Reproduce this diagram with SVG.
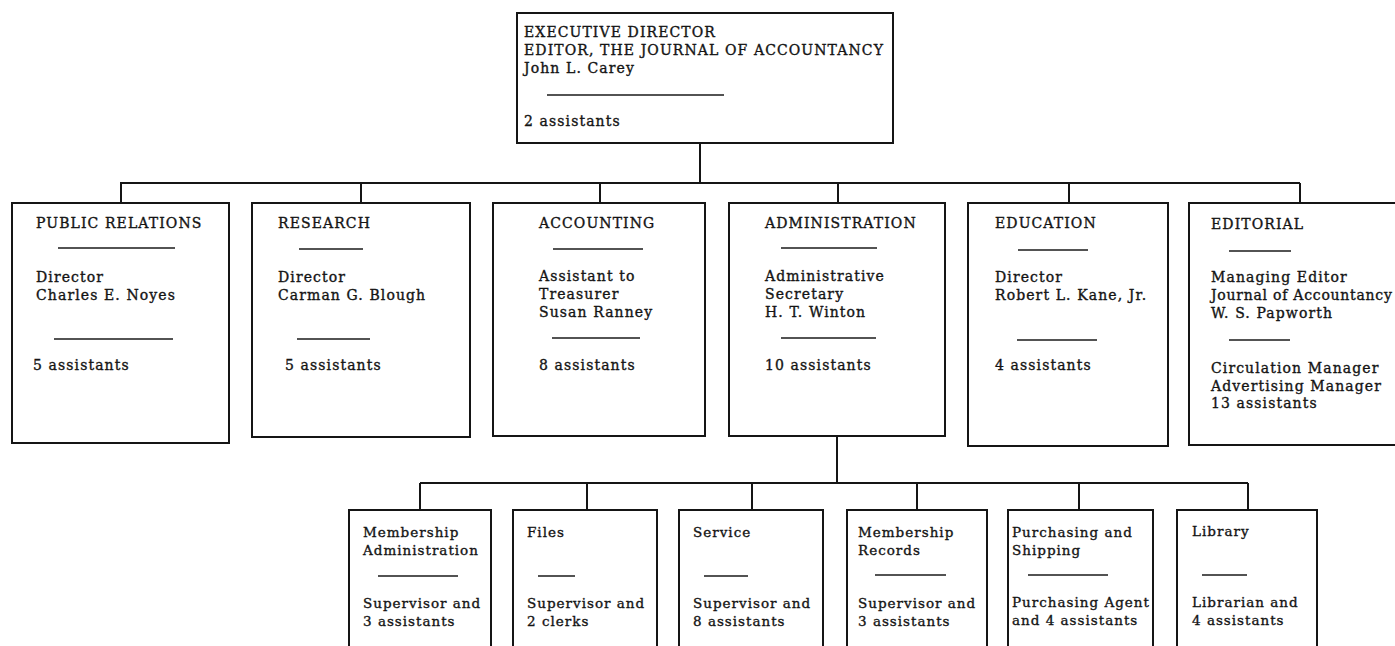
<svg xmlns="http://www.w3.org/2000/svg" width="1395" height="646" viewBox="0 0 1395 646">
  <style>
    .box { fill: #ffffff; stroke: #151515; stroke-width: 2; }
    .link { fill: none; stroke: #151515; stroke-width: 2; }
    .rule { stroke: #1a1a1a; stroke-width: 1.5; }
    text { font-family: "DejaVu Serif", "Liberation Serif", serif; fill: #141414; stroke: #141414; stroke-width: 0.35; }
    .t { font-size: 14px; letter-spacing: 1.1px; }
    .s { font-size: 13.5px; letter-spacing: 1px; }
    .tight { letter-spacing: 0.75px; }
  </style>
  <rect width="1395" height="646" fill="#ffffff" stroke="none"/>

  <!-- connectors -->
  <g id="connectors">
    <path class="link" d="M700,143 V183 M120,183 H1300 M121,183 V203 M361,183 V203 M600,183 V203 M838,183 V203 M1069,183 V203 M1300,183 V203"/>
    <path class="link" d="M837,436 V483 M420,483 H1248 M420,483 V510 M587,483 V510 M752,483 V510 M917,483 V510 M1079,483 V510 M1248,483 V510"/>
  </g>

  <!-- top: executive director -->
  <g id="executive-director">
    <rect class="box" x="517" y="13" width="376" height="130"/>
    <text class="t" x="524" y="37">EXECUTIVE DIRECTOR</text>
    <text class="t" x="524" y="55">EDITOR, THE JOURNAL OF ACCOUNTANCY</text>
    <text class="t" x="524" y="73">John L. Carey</text>
    <line class="rule" x1="547" y1="95" x2="724" y2="95"/>
    <text class="t" x="524" y="126">2 assistants</text>
  </g>

  <!-- departments -->
  <g id="public-relations">
    <rect class="box" x="12" y="203" width="217" height="240"/>
    <text class="t" x="36" y="228">PUBLIC RELATIONS</text>
    <line class="rule" x1="58" y1="248" x2="175" y2="248"/>
    <text class="t" x="36" y="282">Director</text>
    <text class="t" x="36" y="300">Charles E. Noyes</text>
    <line class="rule" x1="54" y1="339" x2="173" y2="339"/>
    <text class="t" x="33" y="370">5 assistants</text>
  </g>

  <g id="research">
    <rect class="box" x="252" y="203" width="218" height="234"/>
    <text class="t" x="278" y="228">RESEARCH</text>
    <line class="rule" x1="299" y1="249" x2="363" y2="249"/>
    <text class="t" x="278" y="282">Director</text>
    <text class="t" x="278" y="300">Carman G. Blough</text>
    <line class="rule" x1="297" y1="339" x2="370" y2="339"/>
    <text class="t" x="285" y="370">5 assistants</text>
  </g>

  <g id="accounting">
    <rect class="box" x="493" y="203" width="212" height="233"/>
    <text class="t" x="539" y="228">ACCOUNTING</text>
    <line class="rule" x1="553" y1="249" x2="643" y2="249"/>
    <text class="t" x="539" y="281">Assistant to</text>
    <text class="t" x="539" y="299">Treasurer</text>
    <text class="t" x="539" y="317">Susan Ranney</text>
    <line class="rule" x1="552" y1="338" x2="640" y2="338"/>
    <text class="t" x="539" y="370">8 assistants</text>
  </g>

  <g id="administration">
    <rect class="box" x="729" y="203" width="216" height="233"/>
    <text class="t" x="765" y="228">ADMINISTRATION</text>
    <line class="rule" x1="781" y1="248" x2="877" y2="248"/>
    <text class="t" x="765" y="281">Administrative</text>
    <text class="t" x="765" y="299">Secretary</text>
    <text class="t" x="765" y="317">H. T. Winton</text>
    <line class="rule" x1="781" y1="338" x2="876" y2="338"/>
    <text class="t" x="765" y="370">10 assistants</text>
  </g>

  <g id="education">
    <rect class="box" x="968" y="203" width="200" height="243"/>
    <text class="t" x="995" y="228">EDUCATION</text>
    <line class="rule" x1="1018" y1="250" x2="1088" y2="250"/>
    <text class="t" x="995" y="282">Director</text>
    <text class="t" x="995" y="300">Robert L. Kane, Jr.</text>
    <line class="rule" x1="1017" y1="340" x2="1097" y2="340"/>
    <text class="t" x="995" y="370">4 assistants</text>
  </g>

  <g id="editorial">
    <rect class="box" x="1189" y="203" width="215" height="242"/>
    <text class="t" x="1211" y="229">EDITORIAL</text>
    <line class="rule" x1="1229" y1="251" x2="1291" y2="251"/>
    <text class="t" x="1211" y="282">Managing Editor</text>
    <text class="t tight" x="1211" y="300">Journal of Accountancy</text>
    <text class="t" x="1211" y="318">W. S. Papworth</text>
    <line class="rule" x1="1229" y1="340" x2="1290" y2="340"/>
    <text class="t" x="1211" y="373">Circulation Manager</text>
    <text class="t" x="1211" y="391">Advertising Manager</text>
    <text class="t" x="1211" y="408">13 assistants</text>
  </g>

  <!-- administration sections -->
  <g id="membership-administration">
    <rect class="box" x="349" y="510" width="142" height="150"/>
    <text class="s" x="363" y="537">Membership</text>
    <text class="s" x="363" y="555">Administration</text>
    <line class="rule" x1="378" y1="576" x2="458" y2="576"/>
    <text class="s" x="363" y="608">Supervisor and</text>
    <text class="s" x="363" y="626">3 assistants</text>
  </g>

  <g id="files">
    <rect class="box" x="513" y="510" width="144" height="150"/>
    <text class="s" x="527" y="537">Files</text>
    <line class="rule" x1="538" y1="576" x2="575" y2="576"/>
    <text class="s" x="527" y="608">Supervisor and</text>
    <text class="s" x="527" y="626">2 clerks</text>
  </g>

  <g id="service">
    <rect class="box" x="679" y="510" width="144" height="150"/>
    <text class="s" x="693" y="537">Service</text>
    <line class="rule" x1="704" y1="576" x2="748" y2="576"/>
    <text class="s" x="693" y="608">Supervisor and</text>
    <text class="s" x="693" y="626">8 assistants</text>
  </g>

  <g id="membership-records">
    <rect class="box" x="847" y="510" width="140" height="150"/>
    <text class="s" x="858" y="537">Membership</text>
    <text class="s" x="858" y="555">Records</text>
    <line class="rule" x1="875" y1="575" x2="946" y2="575"/>
    <text class="s" x="858" y="608">Supervisor and</text>
    <text class="s" x="858" y="626">3 assistants</text>
  </g>

  <g id="purchasing-shipping">
    <rect class="box" x="1008" y="510" width="145" height="150"/>
    <text class="s" x="1012" y="537">Purchasing and</text>
    <text class="s" x="1012" y="555">Shipping</text>
    <line class="rule" x1="1028" y1="575" x2="1108" y2="575"/>
    <text class="s" x="1012" y="607">Purchasing Agent</text>
    <text class="s" x="1012" y="625">and 4 assistants</text>
  </g>

  <g id="library">
    <rect class="box" x="1177" y="510" width="140" height="150"/>
    <text class="s" x="1192" y="536">Library</text>
    <line class="rule" x1="1202" y1="575" x2="1247" y2="575"/>
    <text class="s" x="1192" y="607">Librarian and</text>
    <text class="s" x="1192" y="625">4 assistants</text>
  </g>
</svg>
